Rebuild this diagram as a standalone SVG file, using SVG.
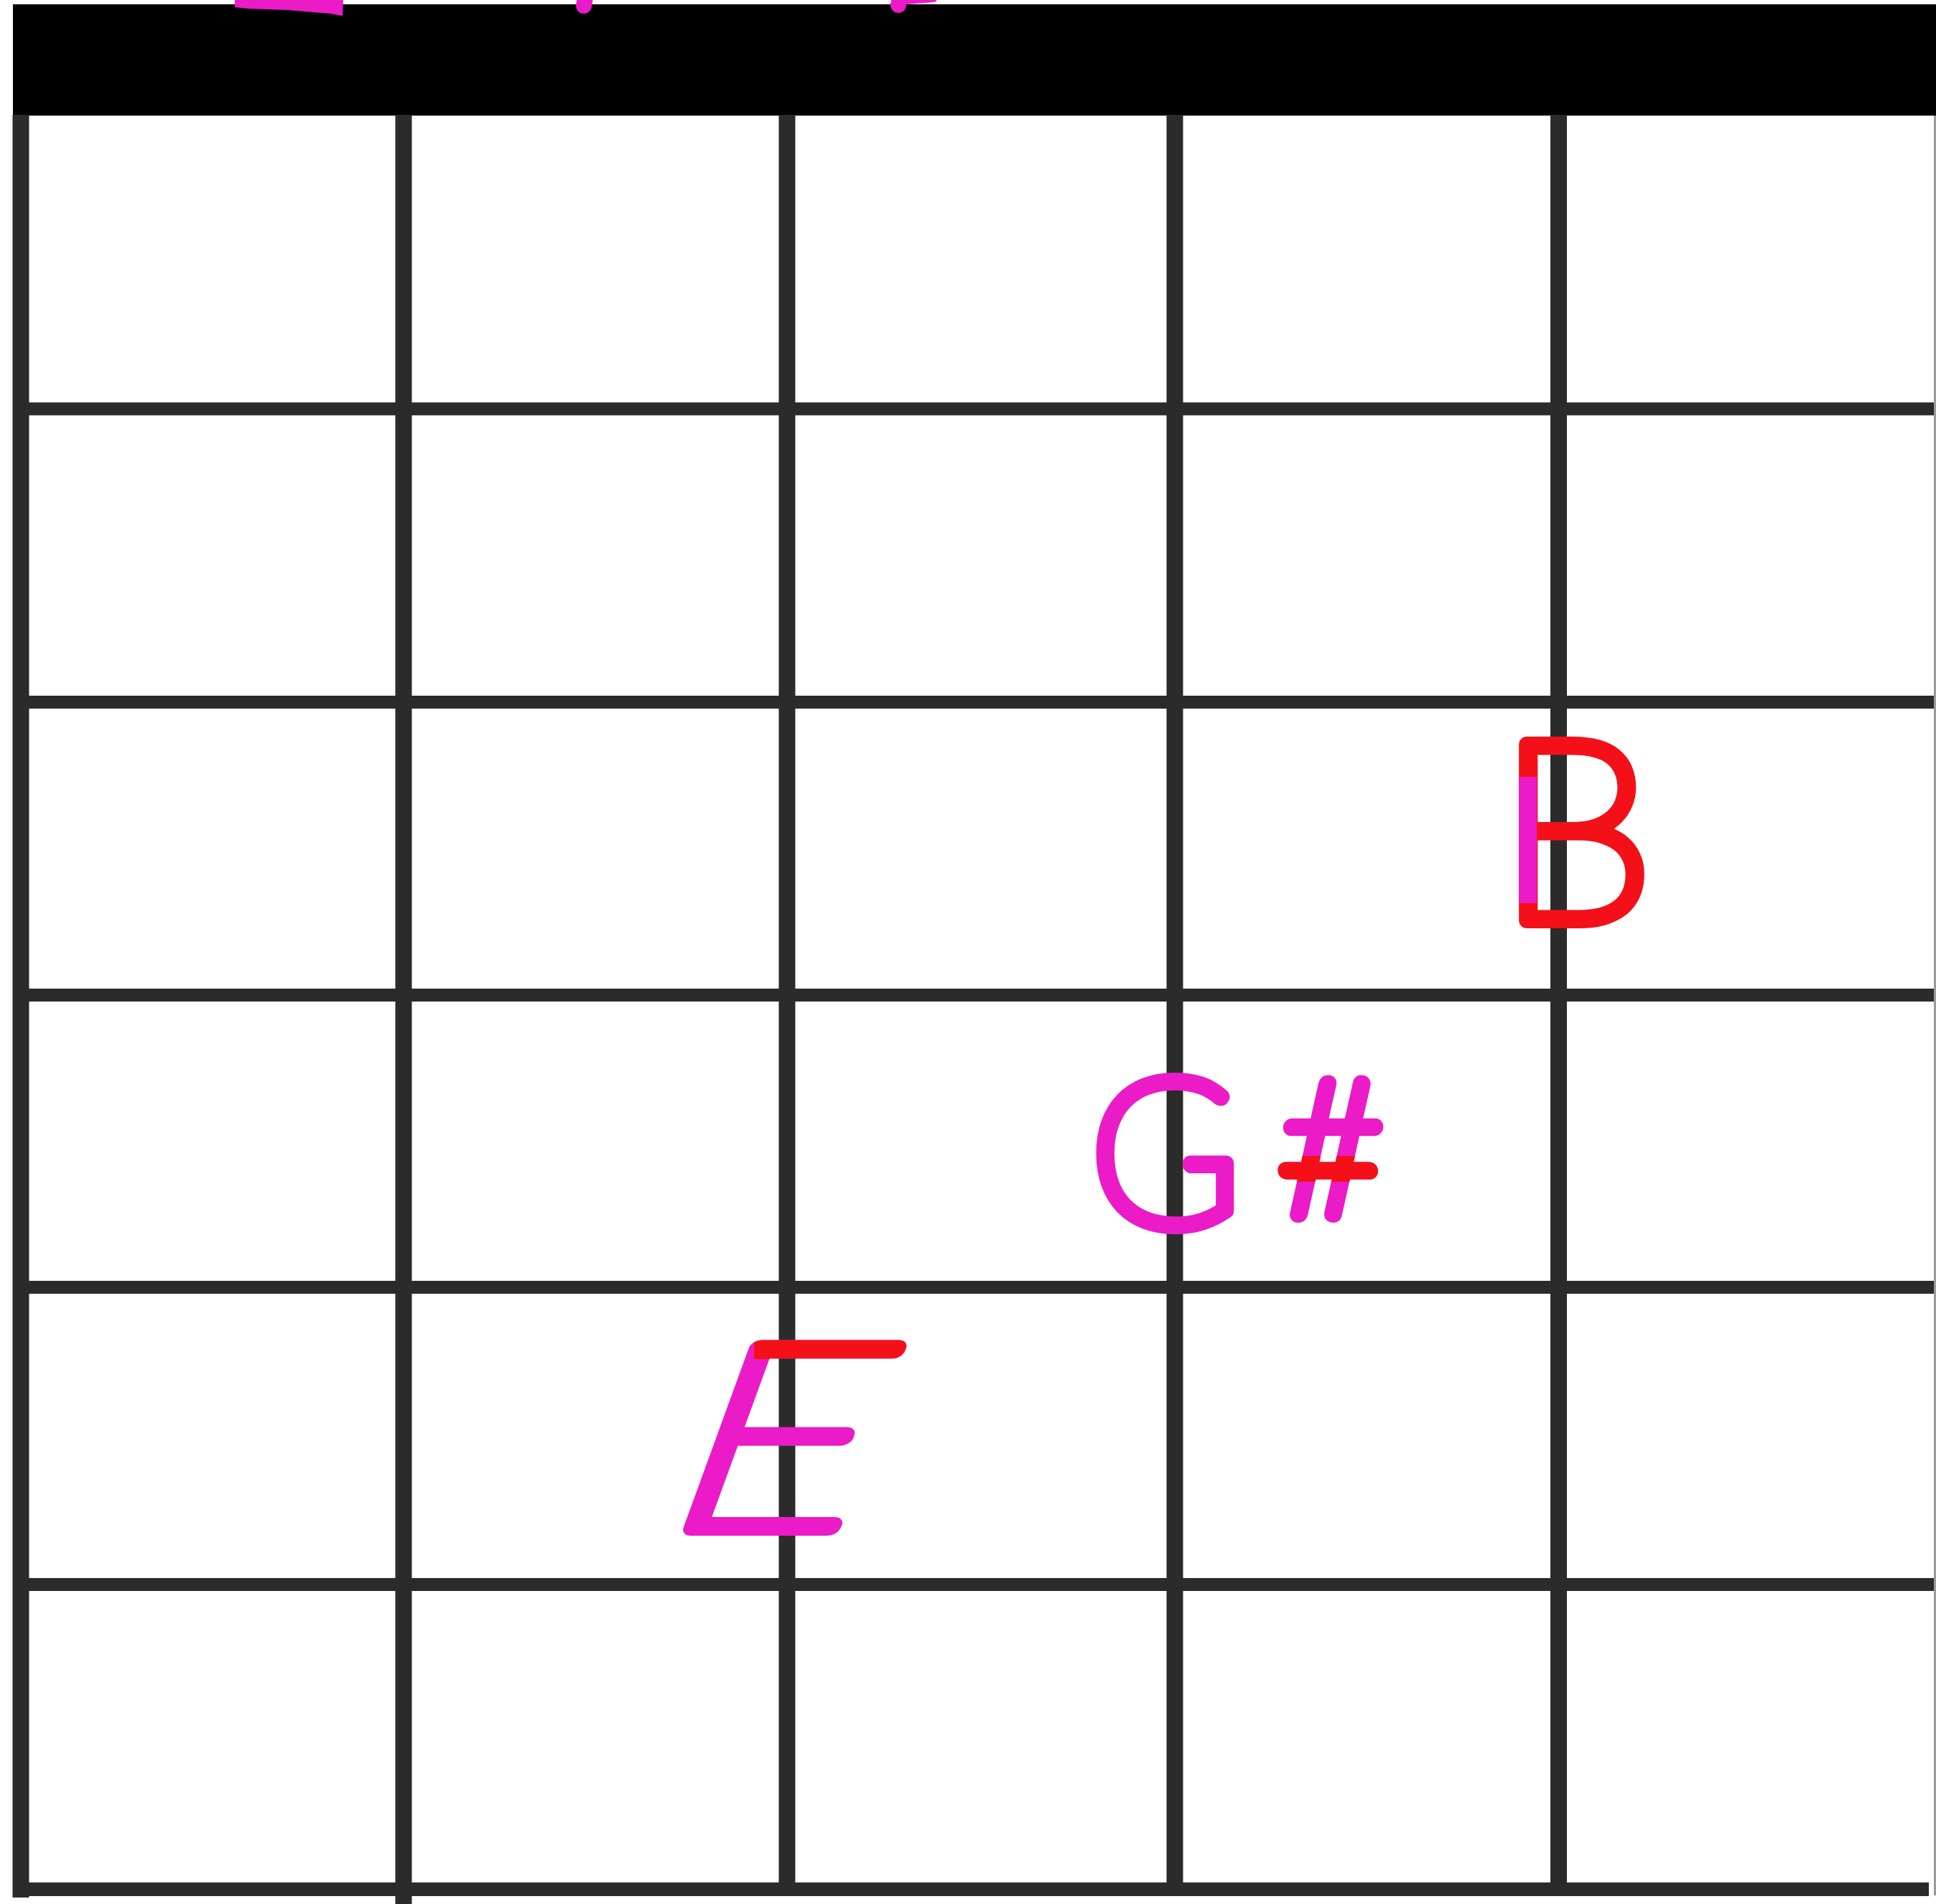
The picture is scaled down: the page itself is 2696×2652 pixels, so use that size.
<svg xmlns="http://www.w3.org/2000/svg" xmlns:xlink="http://www.w3.org/1999/xlink" width="2696" height="2652" viewBox="0 0 2696 2652">
  <style>
    .v { stroke: #2b2b2b; stroke-width: 23; fill: none; }
    .h { stroke: #2b2b2b; stroke-width: 18; fill: none; }
    .note { font-family: Lato, "Liberation Sans", sans-serif; font-weight: 100; stroke-linejoin: round; stroke-linecap: round; stroke-width: 22; }
    .mag { fill: #eb1bc8; stroke: #eb1bc8; }
    .red { fill: #f41018; stroke: #f41018; }
    .ink { stroke-linecap: round; fill: none; stroke: #eb1bc8; }
  </style>
  <defs>
    <text id="tB" class="note" x="2194" y="1282" font-size="350" text-anchor="middle">B</text>
    <text id="tG" class="note"><tspan x="1623" y="1706" font-size="284" text-anchor="middle">G</tspan><tspan x="1853" y="1692" font-size="262" text-anchor="middle">#</tspan></text>
    <text id="tE" class="note" x="0" y="0" font-size="358">E</text>
    <clipPath id="cB"><rect x="2080" y="1082" width="60" height="176"/></clipPath>
    <clipPath id="cSharp"><rect x="1770" y="1610" width="170" height="36"/></clipPath>
    <clipPath id="cE"><rect x="1050" y="1840" width="280" height="53"/></clipPath>
    <clipPath id="cTop"><rect x="0" y="0" width="2696" height="24"/></clipPath>
  </defs>
  <rect width="2696" height="2652" fill="#ffffff"/>
  <g id="header">
    <rect x="18" y="6" width="2678" height="155" fill="#000000"/>
    <g clip-path="url(#cTop)">
      <path d="M327 0 L327 10 L345 12 L400 14 L460 19 L477 22 L478 0 Z" fill="#eb1bc8"/>
      <line class="ink" x1="815" y1="-4" x2="813" y2="8" stroke-width="22"/>
      <line class="ink" x1="1253" y1="-4" x2="1251" y2="7" stroke-width="22"/>
      <line class="ink" x1="1262" y1="1" x2="1300" y2="-2" stroke-width="10"/>
    </g>
  </g>
  <g id="grid">
    <line class="v" x1="29" y1="160" x2="29" y2="2643"/>
    <line class="v" x1="562" y1="160" x2="562" y2="2652"/>
    <line class="v" x1="1096" y1="160" x2="1096" y2="2631"/>
    <line class="v" x1="1636" y1="160" x2="1636" y2="2631"/>
    <line class="v" x1="2170.5" y1="160" x2="2170.5" y2="2631"/>
    <line class="h" x1="18" y1="569.5" x2="2696" y2="569.5"/>
    <line class="h" x1="18" y1="978" x2="2696" y2="978"/>
    <line class="h" x1="18" y1="1386" x2="2696" y2="1386"/>
    <line class="h" x1="18" y1="1793" x2="2696" y2="1793"/>
    <line class="h" x1="18" y1="2207" x2="2696" y2="2207"/>
    <line x1="18" y1="2631.5" x2="2686" y2="2631.5" stroke="#2b2b2b" stroke-width="19"/>
    <line x1="2694.5" y1="161" x2="2694.5" y2="2640" stroke="#9a9a9a" stroke-width="3"/>
  </g>
  <g id="note-B">
    <use xlink:href="#tB" class="red"/>
    <use xlink:href="#tB" class="mag" clip-path="url(#cB)"/>
  </g>
  <g id="note-Gsharp">
    <use xlink:href="#tG" class="mag"/>
    <use xlink:href="#tG" class="red" clip-path="url(#cSharp)"/>
  </g>
  <g id="note-E">
    <use xlink:href="#tE" class="mag" transform="translate(912,2128) skewX(-20) scale(1.3,1)"/>
    <g clip-path="url(#cE)">
      <use xlink:href="#tE" class="red" transform="translate(912,2128) skewX(-20) scale(1.3,1)"/>
    </g>
  </g>
</svg>
